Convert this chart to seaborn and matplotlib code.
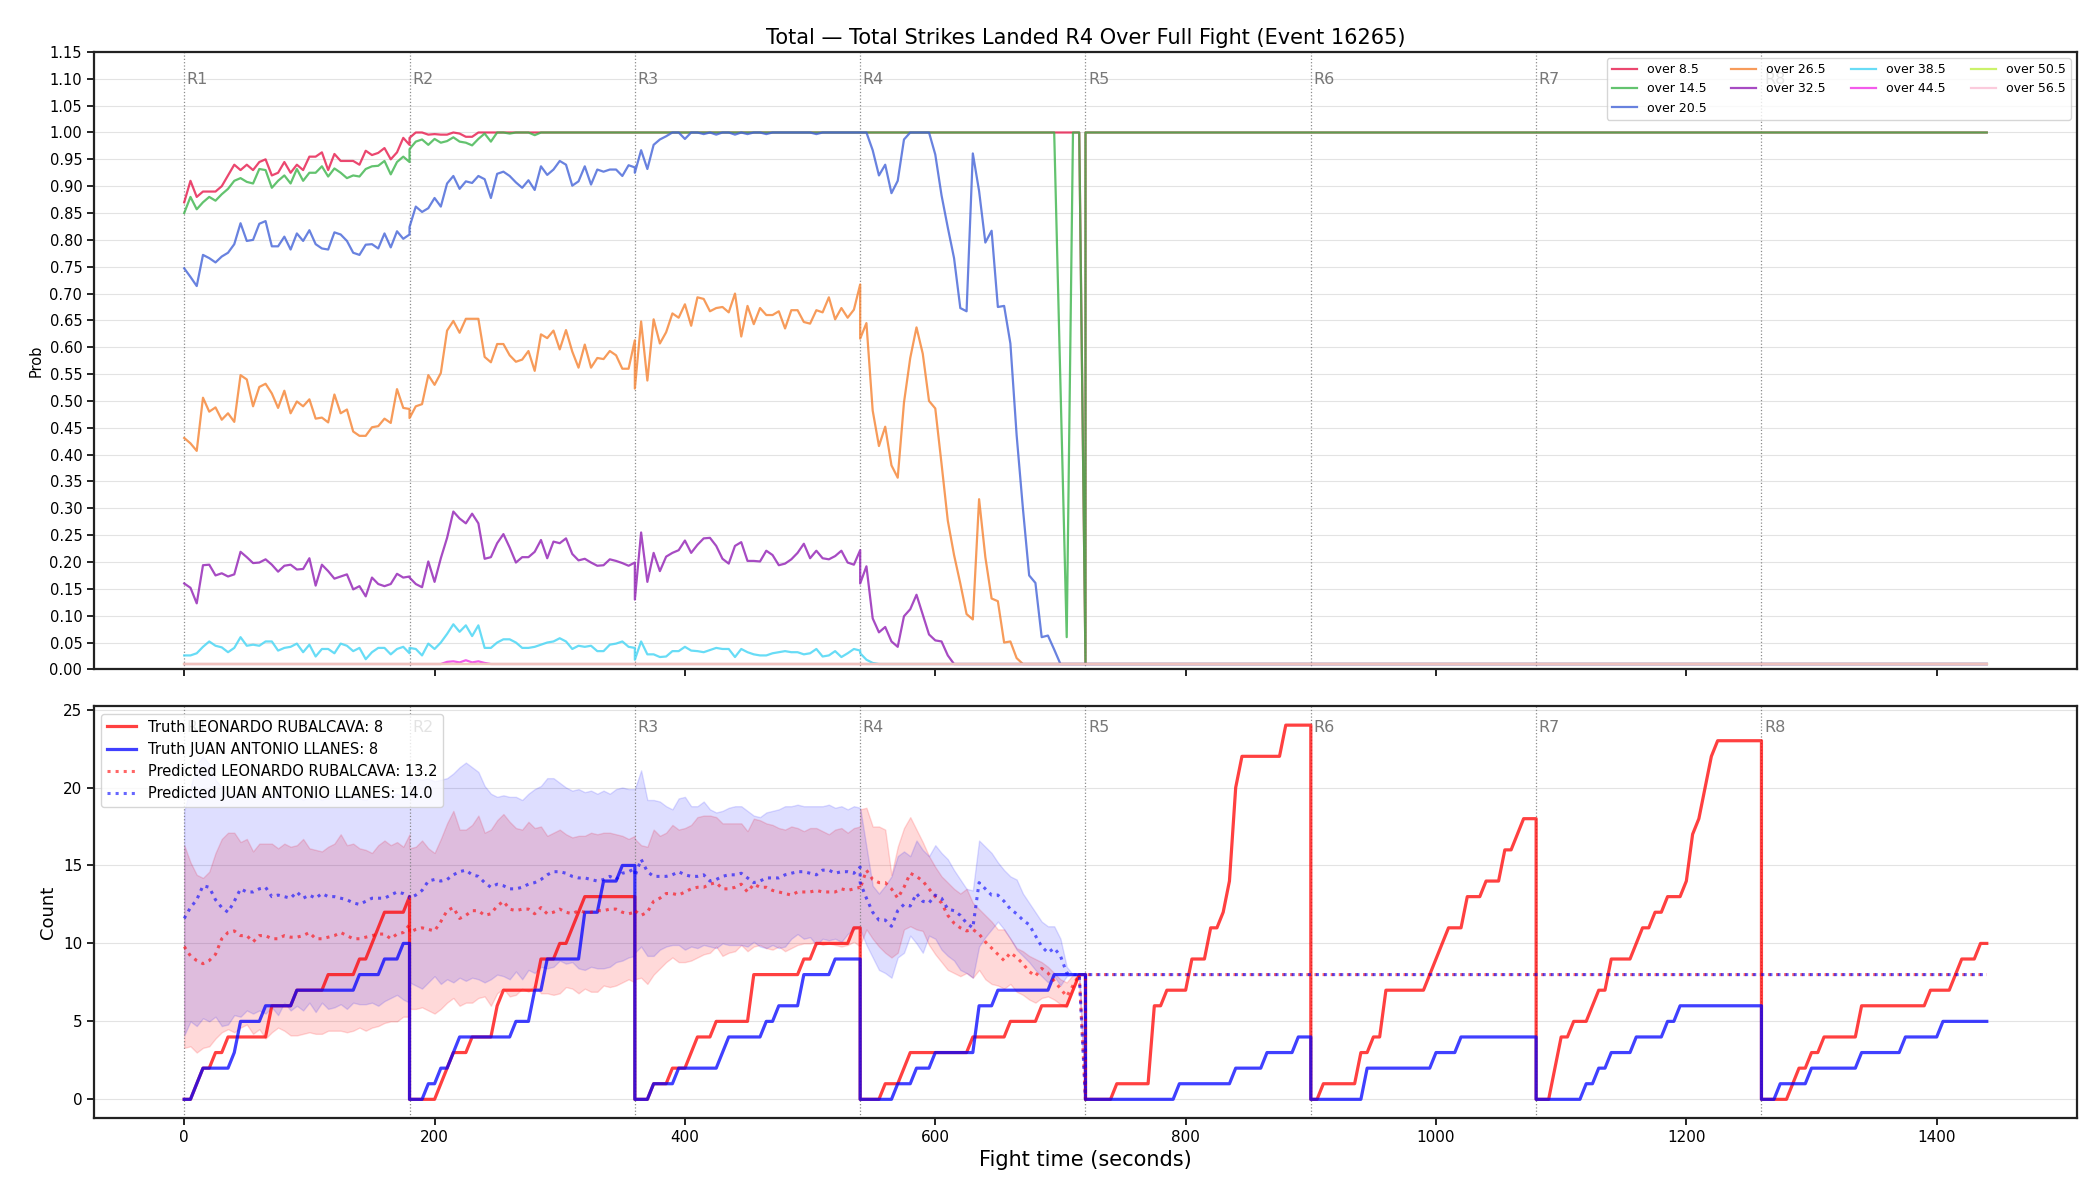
import numpy as np
import pandas as pd
import matplotlib
matplotlib.use("Agg")
import matplotlib.pyplot as plt
import matplotlib.transforms as mtransforms
from matplotlib.ticker import FormatStrFormatter
import seaborn as sns

ROUND_LEN = 180
STEP = 5
# sample times inside one round (seconds from the round start)
tau = np.arange(0, ROUND_LEN + STEP, STEP)


def flat(v):
    # a round where the value does not move
    return [v] * len(tau)


# ---------------- top panel: P(total strikes landed R4 over X) ----------------
over_8_5 = [
    [0.87, 0.91, 0.88, 0.89, 0.89, 0.89, 0.90, 0.92, 0.94, 0.93, 0.94, 0.93, 0.945, 0.95, 0.92, 0.925, 0.945, 0.925, 0.94,
     0.93, 0.955, 0.955, 0.963, 0.93, 0.96, 0.947, 0.947, 0.947, 0.94, 0.966, 0.958, 0.962, 0.971, 0.95, 0.963, 0.99, 0.977],
    [0.99, 1.0, 1.0, 0.996, 0.997, 0.996, 0.996, 1.0, 0.998, 0.992, 0.992, 1.0, 1.0, 1.0, 1.0, 1.0, 1.0, 1.0, 1.0, 1.0,
     1.0, 1.0, 1.0, 1.0, 1.0, 1.0, 1.0, 1.0, 1.0, 1.0, 1.0, 1.0, 1.0, 1.0, 1.0, 1.0, 1.0],
    flat(1.0),
    flat(1.0)[:-1] + [0.01],
    flat(1.0), flat(1.0), flat(1.0), flat(1.0),
]
over_14_5 = [
    [0.85, 0.88, 0.857, 0.87, 0.88, 0.873, 0.885, 0.895, 0.91, 0.915, 0.908, 0.905, 0.932, 0.93, 0.897, 0.91, 0.92, 0.905,
     0.932, 0.91, 0.925, 0.925, 0.937, 0.918, 0.933, 0.925, 0.915, 0.92, 0.918, 0.932, 0.937, 0.938, 0.947, 0.922, 0.945,
     0.955, 0.945],
    [0.969, 0.983, 0.987, 0.977, 0.988, 0.981, 0.984, 0.991, 0.983, 0.981, 0.976, 0.988, 0.998, 0.983, 1.0, 1.0, 0.998, 1.0,
     1.0, 1.0, 0.995, 1.0, 1.0, 1.0, 1.0, 1.0, 1.0, 1.0, 1.0, 1.0, 1.0, 1.0, 1.0, 1.0, 1.0, 1.0, 1.0],
    flat(1.0),
    flat(1.0)[:32] + [0.53, 0.06, 1.0, 1.0, 0.01],
    flat(1.0), flat(1.0), flat(1.0), flat(1.0),
]
over_20_5 = [
    [0.747, 0.731, 0.714, 0.772, 0.766, 0.758, 0.769, 0.776, 0.792, 0.831, 0.798, 0.80, 0.83, 0.835, 0.788, 0.788, 0.806,
     0.782, 0.812, 0.798, 0.818, 0.792, 0.784, 0.782, 0.814, 0.81, 0.798, 0.776, 0.772, 0.791, 0.792, 0.784, 0.812, 0.786,
     0.816, 0.802, 0.81],
    [0.824, 0.862, 0.852, 0.859, 0.878, 0.862, 0.905, 0.919, 0.895, 0.909, 0.906, 0.919, 0.913, 0.878, 0.923, 0.927, 0.919,
     0.907, 0.897, 0.911, 0.893, 0.937, 0.921, 0.931, 0.947, 0.94, 0.901, 0.909, 0.937, 0.903, 0.931, 0.927, 0.931, 0.931,
     0.919, 0.939, 0.935],
    [0.925, 0.967, 0.932, 0.977, 0.987, 0.993, 1.0, 1.0, 0.988, 1.0, 1.0, 0.997, 1.0, 0.996, 1.0, 1.0, 0.996, 1.0, 0.997,
     1.0, 1.0, 0.997, 1.0, 1.0, 1.0, 1.0, 1.0, 1.0, 1.0, 0.997, 1.0, 1.0, 1.0, 1.0, 1.0, 1.0, 1.0],
    [1.0, 1.0, 0.967, 0.92, 0.94, 0.887, 0.91, 0.987, 1.0, 1.0, 1.0, 1.0, 0.959, 0.883, 0.823, 0.766, 0.673, 0.667, 0.961,
     0.891, 0.795, 0.817, 0.675, 0.677, 0.607, 0.436, 0.30, 0.175, 0.161, 0.06, 0.063, 0.037, 0.01, 0.01, 0.01, 0.01, 0.01],
    flat(0.01), flat(0.01), flat(0.01), flat(0.01),
]
over_26_5 = [
    [0.431, 0.421, 0.407, 0.506, 0.48, 0.488, 0.465, 0.477, 0.461, 0.548, 0.54, 0.49, 0.526, 0.532, 0.514, 0.487, 0.519,
     0.477, 0.499, 0.49, 0.503, 0.467, 0.469, 0.46, 0.512, 0.477, 0.484, 0.443, 0.435, 0.435, 0.451, 0.453, 0.467, 0.459,
     0.522, 0.487, 0.485],
    [0.468, 0.49, 0.494, 0.548, 0.53, 0.552, 0.631, 0.649, 0.627, 0.653, 0.653, 0.653, 0.582, 0.572, 0.606, 0.606, 0.585,
     0.573, 0.577, 0.593, 0.556, 0.624, 0.617, 0.631, 0.596, 0.632, 0.592, 0.562, 0.605, 0.562, 0.58, 0.578, 0.593, 0.585,
     0.56, 0.56, 0.613],
    [0.523, 0.648, 0.538, 0.652, 0.607, 0.628, 0.663, 0.655, 0.68, 0.64, 0.693, 0.69, 0.667, 0.673, 0.675, 0.665, 0.70,
     0.62, 0.677, 0.643, 0.673, 0.66, 0.66, 0.667, 0.635, 0.669, 0.669, 0.647, 0.644, 0.669, 0.665, 0.693, 0.652, 0.673,
     0.655, 0.67, 0.717],
    [0.616, 0.645, 0.482, 0.416, 0.452, 0.38, 0.357, 0.497, 0.58, 0.637, 0.588, 0.50, 0.486, 0.383, 0.277, 0.213, 0.16,
     0.103, 0.093, 0.317, 0.209, 0.132, 0.127, 0.05, 0.052, 0.021, 0.01, 0.01, 0.01, 0.01, 0.01, 0.01, 0.01, 0.01, 0.01,
     0.01, 0.01],
    flat(0.01), flat(0.01), flat(0.01), flat(0.01),
]
over_32_5 = [
    [0.16, 0.152, 0.123, 0.194, 0.195, 0.175, 0.179, 0.173, 0.177, 0.219, 0.209, 0.198, 0.199, 0.205, 0.195, 0.182, 0.193,
     0.195, 0.186, 0.187, 0.207, 0.156, 0.195, 0.183, 0.169, 0.173, 0.177, 0.149, 0.155, 0.136, 0.171, 0.159, 0.155, 0.159,
     0.178, 0.171, 0.173],
    [0.171, 0.159, 0.153, 0.201, 0.163, 0.207, 0.245, 0.294, 0.281, 0.272, 0.29, 0.272, 0.206, 0.209, 0.235, 0.252, 0.227,
     0.199, 0.209, 0.209, 0.219, 0.241, 0.207, 0.238, 0.235, 0.244, 0.215, 0.203, 0.206, 0.199, 0.193, 0.194, 0.205, 0.202,
     0.198, 0.193, 0.199],
    [0.13, 0.255, 0.163, 0.217, 0.183, 0.21, 0.217, 0.222, 0.24, 0.217, 0.232, 0.244, 0.245, 0.23, 0.206, 0.197, 0.23,
     0.237, 0.202, 0.202, 0.201, 0.221, 0.213, 0.194, 0.197, 0.205, 0.217, 0.234, 0.207, 0.221, 0.207, 0.205, 0.211, 0.221,
     0.199, 0.195, 0.222],
    [0.16, 0.192, 0.095, 0.069, 0.079, 0.052, 0.042, 0.099, 0.112, 0.139, 0.102, 0.065, 0.054, 0.052, 0.026, 0.01, 0.01,
     0.01, 0.01, 0.01, 0.01, 0.01, 0.01, 0.01, 0.01, 0.01, 0.01, 0.01, 0.01, 0.01, 0.01, 0.01, 0.01, 0.01, 0.01, 0.01, 0.01],
    flat(0.01), flat(0.01), flat(0.01), flat(0.01),
]
over_38_5 = [
    [0.026, 0.026, 0.03, 0.042, 0.052, 0.044, 0.041, 0.032, 0.04, 0.06, 0.044, 0.046, 0.044, 0.052, 0.052, 0.035, 0.04,
     0.042, 0.048, 0.032, 0.046, 0.024, 0.038, 0.038, 0.03, 0.048, 0.044, 0.034, 0.04, 0.019, 0.032, 0.04, 0.04, 0.028,
     0.038, 0.042, 0.03],
    [0.04, 0.038, 0.026, 0.048, 0.038, 0.05, 0.066, 0.084, 0.07, 0.082, 0.062, 0.082, 0.04, 0.04, 0.05, 0.056, 0.056, 0.05,
     0.04, 0.04, 0.042, 0.046, 0.05, 0.052, 0.058, 0.052, 0.038, 0.044, 0.042, 0.044, 0.034, 0.034, 0.046, 0.048, 0.052,
     0.042, 0.04],
    [0.018, 0.052, 0.028, 0.028, 0.023, 0.024, 0.034, 0.034, 0.042, 0.035, 0.034, 0.032, 0.036, 0.04, 0.038, 0.038, 0.023,
     0.038, 0.032, 0.028, 0.026, 0.026, 0.03, 0.032, 0.034, 0.032, 0.032, 0.028, 0.03, 0.038, 0.024, 0.026, 0.034, 0.023,
     0.03, 0.038, 0.035],
    [0.03, 0.018, 0.012] + flat(0.01)[3:],
    flat(0.01), flat(0.01), flat(0.01), flat(0.01),
]
over_44_5 = [
    flat(0.01),
    [0.01, 0.01, 0.01, 0.01, 0.01, 0.01, 0.014, 0.015, 0.013, 0.017, 0.013, 0.015, 0.012] + flat(0.01)[13:],
    flat(0.01), flat(0.01), flat(0.01), flat(0.01), flat(0.01), flat(0.01),
]
over_50_5 = [flat(0.01)] * 8
over_56_5 = [flat(0.01)] * 8

top_labels = ["over 8.5", "over 14.5", "over 20.5", "over 26.5", "over 32.5",
              "over 38.5", "over 44.5", "over 50.5", "over 56.5"]
top_values = [over_8_5, over_14_5, over_20_5, over_26_5, over_32_5,
              over_38_5, over_44_5, over_50_5, over_56_5]
top_colors = ["#e6194b", "#3cb44b", "#4363d8", "#f58231", "#911eb4",
              "#42d4f4", "#f032e6", "#bfef45", "#fabed4"]

# ---------------- bottom panel: strikes landed per round ----------------
fighter_a = "LEONARDO RUBALCAVA"
fighter_b = "JUAN ANTONIO LLANES"

truth_a = [
    [0, 0, 1, 2, 2, 3, 3, 4, 4, 4, 4, 4, 4, 4, 6, 6, 6, 6, 7, 7, 7, 7, 7, 8, 8, 8, 8, 8, 9, 9, 10, 11, 12, 12, 12, 12, 13],
    [0, 0, 0, 0, 0, 1, 2, 3, 3, 3, 4, 4, 4, 4, 6, 7, 7, 7, 7, 7, 7, 9, 9, 9, 10, 10, 11, 12, 13, 13, 13, 13, 13, 13, 13,
     13, 13],
    [0, 0, 0, 1, 1, 1, 2, 2, 2, 3, 4, 4, 4, 5, 5, 5, 5, 5, 5, 8, 8, 8, 8, 8, 8, 8, 8, 9, 9, 10, 10, 10, 10, 10, 10, 11, 11],
    [0, 0, 0, 0, 1, 1, 1, 2, 3, 3, 3, 3, 3, 3, 3, 3, 3, 3, 4, 4, 4, 4, 4, 4, 5, 5, 5, 5, 5, 6, 6, 6, 6, 6, 7, 8, 8],
    [0, 0, 0, 0, 0, 1, 1, 1, 1, 1, 1, 6, 6, 7, 7, 7, 7, 9, 9, 9, 11, 11, 12, 14, 20, 22, 22, 22, 22, 22, 22, 22, 24, 24,
     24, 24, 24],
    [0, 0, 1, 1, 1, 1, 1, 1, 3, 3, 4, 4, 7, 7, 7, 7, 7, 7, 7, 8, 9, 10, 11, 11, 11, 13, 13, 13, 14, 14, 14, 16, 16, 17,
     18, 18, 18],
    [0, 0, 0, 2, 4, 4, 5, 5, 5, 6, 7, 7, 9, 9, 9, 9, 10, 11, 11, 12, 12, 13, 13, 13, 14, 17, 18, 20, 22, 23, 23, 23, 23,
     23, 23, 23, 23],
    [0, 0, 0, 0, 0, 1, 2, 2, 3, 3, 4, 4, 4, 4, 4, 4, 6, 6, 6, 6, 6, 6, 6, 6, 6, 6, 6, 7, 7, 7, 7, 8, 9, 9, 9, 10, 10],
]
truth_b = [
    [0, 0, 1, 2, 2, 2, 2, 2, 3, 5, 5, 5, 5, 6, 6, 6, 6, 6, 7, 7, 7, 7, 7, 7, 7, 7, 7, 7, 8, 8, 8, 8, 9, 9, 9, 10, 10],
    [0, 0, 0, 1, 1, 2, 2, 3, 4, 4, 4, 4, 4, 4, 4, 4, 4, 5, 5, 5, 7, 7, 9, 9, 9, 9, 9, 9, 12, 12, 12, 14, 14, 14, 15, 15,
     15],
    [0, 0, 0, 1, 1, 1, 1, 2, 2, 2, 2, 2, 2, 2, 3, 4, 4, 4, 4, 4, 4, 5, 5, 6, 6, 6, 6, 8, 8, 8, 8, 8, 9, 9, 9, 9, 9],
    [0, 0, 0, 0, 0, 0, 1, 1, 1, 2, 2, 2, 3, 3, 3, 3, 3, 3, 3, 6, 6, 6, 7, 7, 7, 7, 7, 7, 7, 7, 7, 8, 8, 8, 8, 8, 8],
    [0, 0, 0, 0, 0, 0, 0, 0, 0, 0, 0, 0, 0, 0, 0, 1, 1, 1, 1, 1, 1, 1, 1, 1, 2, 2, 2, 2, 2, 3, 3, 3, 3, 3, 4, 4, 4],
    [0, 0, 0, 0, 0, 0, 0, 0, 0, 2, 2, 2, 2, 2, 2, 2, 2, 2, 2, 2, 3, 3, 3, 3, 4, 4, 4, 4, 4, 4, 4, 4, 4, 4, 4, 4, 4],
    [0, 0, 0, 0, 0, 0, 0, 0, 1, 1, 2, 2, 3, 3, 3, 3, 4, 4, 4, 4, 4, 5, 5, 6, 6, 6, 6, 6, 6, 6, 6, 6, 6, 6, 6, 6, 6],
    [0, 0, 0, 1, 1, 1, 1, 1, 2, 2, 2, 2, 2, 2, 2, 2, 3, 3, 3, 3, 3, 3, 3, 4, 4, 4, 4, 4, 4, 5, 5, 5, 5, 5, 5, 5, 5],
]

pred_a = [
    [9.8, 9.2, 8.9, 8.7, 8.9, 9.3, 10.3, 10.7, 10.8, 10.5, 10.5, 10.1, 10.5, 10.5, 10.3, 10.3, 10.5, 10.4, 10.4, 10.5,
     10.7, 10.3, 10.3, 10.4, 10.5, 10.7, 10.5, 10.3, 10.3, 10.4, 10.5, 10.6, 10.6, 10.3, 10.6, 10.7, 11.2],
    [10.7, 10.9, 11.0, 10.9, 10.8, 11.4, 12.1, 12.3, 11.6, 11.8, 12.1, 12.1, 11.8, 11.9, 12.4, 12.7, 12.2, 12.1, 12.2,
     12.2, 11.9, 12.3, 11.9, 12.0, 12.2, 12.0, 11.9, 12.1, 12.0, 12.0, 12.1, 12.1, 12.2, 12.2, 12.0, 11.9, 12.0],
    [12.1, 11.8, 12.0, 12.7, 12.9, 13.2, 13.2, 13.1, 13.3, 13.5, 13.6, 13.6, 13.8, 13.9, 13.5, 13.5, 13.6, 13.8, 13.3,
     13.8, 13.6, 13.6, 13.4, 13.3, 13.2, 13.1, 13.3, 13.3, 13.3, 13.4, 13.3, 13.3, 13.3, 13.5, 13.4, 13.5, 13.6],
    [13.5, 14.7, 14.1, 13.9, 13.9, 13.5, 12.9, 13.6, 14.5, 14.3, 14.0, 13.5, 13.0, 12.6, 11.8, 11.3, 11.0, 10.8, 10.9,
     10.6, 10.1, 9.7, 9.3, 8.9, 9.4, 9.1, 8.7, 8.2, 7.9, 8.4, 8.1, 7.6, 7.1, 6.6, 7.3, 8.0, 0.0],
    flat(8.0), flat(8.0), flat(8.0), flat(8.0),
]
pred_b = [
    [11.6, 12.3, 12.8, 13.7, 13.6, 12.8, 12.3, 12.0, 12.7, 13.5, 13.3, 13.3, 13.5, 13.6, 13.0, 13.1, 13.0, 12.9, 13.3,
     12.9, 13.1, 12.9, 13.2, 13.0, 13.0, 12.9, 12.8, 12.6, 12.5, 12.7, 12.9, 12.9, 12.9, 13.1, 13.3, 13.2, 13.0],
    [12.9, 13.1, 13.4, 14.0, 14.1, 14.0, 14.1, 14.4, 14.6, 14.7, 14.4, 14.3, 13.9, 13.6, 13.8, 13.7, 13.5, 13.5, 13.6,
     13.8, 13.9, 14.1, 14.4, 14.6, 14.6, 14.5, 14.3, 14.2, 14.2, 14.1, 14.0, 14.1, 14.3, 14.1, 14.5, 14.6, 14.8],
    [14.3, 15.4, 14.6, 14.3, 14.3, 14.3, 14.4, 14.6, 14.4, 14.3, 14.3, 14.4, 14.0, 14.1, 14.3, 14.4, 14.4, 14.5, 14.2,
     13.9, 14.0, 14.2, 14.2, 14.2, 14.4, 14.5, 14.6, 14.6, 14.5, 14.4, 14.7, 14.7, 14.5, 14.6, 14.6, 14.5, 14.9],
    [13.9, 12.9, 12.0, 11.5, 11.5, 11.1, 12.1, 12.5, 12.4, 13.2, 12.7, 12.6, 13.1, 12.9, 12.2, 12.1, 11.8, 11.3, 11.0,
     13.9, 13.5, 13.1, 13.1, 12.7, 12.2, 11.9, 11.5, 11.2, 10.5, 9.8, 9.4, 9.7, 9.2, 8.1, 8.0, 8.0, 0.0],
    flat(8.0), flat(8.0), flat(8.0), flat(8.0),
]

# prediction bands, rounds 1-4 only
band_a_lo = [
    [3.3, 3.4, 3.0, 3.3, 3.4, 3.9, 4.3, 4.5, 4.3, 4.6, 4.8, 4.2, 4.5, 3.9, 4.3, 4.6, 4.4, 4.1, 4.1, 4.2, 4.3, 4.2, 4.2,
     4.4, 4.4, 4.4, 4.3, 4.4, 4.6, 4.4, 4.6, 4.7, 4.9, 5.0, 5.0, 5.3, 5.3],
    [5.8, 5.8, 5.9, 5.7, 5.5, 5.8, 6.2, 6.5, 6.0, 6.2, 6.2, 6.5, 6.6, 6.0, 6.8, 7.1, 6.6, 6.7, 7.1, 6.9, 7.3, 6.8, 6.8,
     6.7, 6.8, 7.2, 7.1, 6.8, 7.1, 6.9, 6.9, 7.3, 7.2, 7.3, 7.5, 7.7, 7.5],
    [7.7, 7.8, 7.4, 8.0, 8.4, 8.8, 9.1, 8.8, 8.8, 8.9, 9.1, 9.3, 9.4, 9.8, 9.2, 9.4, 9.5, 9.9, 9.5, 9.8, 9.9, 9.7, 9.6,
     9.8, 9.5, 9.7, 9.9, 10.0, 10.0, 10.1, 9.9, 10.0, 9.9, 9.8, 9.9, 10.1, 9.8],
    [9.9, 10.9, 10.3, 9.8, 9.4, 9.1, 9.4, 10.9, 11.1, 10.9, 10.8, 9.9, 9.3, 8.8, 8.3, 8.1, 7.9, 8.1, 7.8, 8.3, 7.7, 7.4,
     7.3, 7.1, 7.4, 6.9, 6.7, 6.4, 6.2, 6.5, 6.6, 6.4, 6.1, 5.9, 7.0, 8.0, 0.0],
]
band_a_hi = [
    [16.3, 15.2, 14.4, 14.2, 14.6, 15.8, 16.7, 17.1, 17.1, 16.5, 16.7, 15.9, 16.4, 16.4, 16.4, 16.1, 16.4, 16.2, 16.3,
     16.7, 16.1, 16.0, 15.9, 16.2, 16.4, 17.0, 16.3, 16.4, 16.1, 16.0, 15.8, 16.3, 16.6, 16.3, 16.5, 16.2, 17.0],
    [16.1, 16.2, 16.6, 16.1, 15.8, 16.7, 17.7, 18.5, 17.3, 17.3, 17.6, 18.2, 17.1, 17.3, 17.9, 18.3, 17.8, 17.4, 17.3,
     17.8, 17.4, 17.5, 16.9, 17.1, 17.3, 17.0, 16.8, 16.9, 16.9, 17.1, 17.0, 17.1, 17.1, 17.0, 16.9, 16.7, 16.9],
    [16.7, 16.3, 16.2, 17.3, 16.9, 17.1, 17.6, 17.3, 17.4, 17.6, 18.1, 18.2, 18.2, 18.1, 17.7, 17.7, 17.7, 17.7, 17.2,
     18.0, 17.9, 17.7, 17.6, 17.4, 17.3, 17.5, 17.4, 17.2, 17.4, 17.4, 17.2, 17.0, 17.3, 17.4, 17.1, 17.4, 17.5],
    [18.6, 18.7, 17.5, 17.5, 17.3, 14.4, 16.2, 17.4, 18.1, 17.3, 16.5, 15.6, 14.9, 14.3, 13.9, 13.5, 13.2, 13.5, 12.6,
     12.2, 11.8, 11.4, 10.9, 10.9, 10.3, 9.7, 9.5, 9.2, 9.0, 8.8, 8.5, 8.1, 7.7, 7.5, 8.0, 8.0, 0.0],
]
band_b_lo = [
    [4.1, 5.0, 4.7, 5.2, 5.0, 5.3, 4.7, 4.8, 5.4, 5.3, 5.7, 5.5, 5.7, 5.5, 5.9, 5.4, 6.2, 5.7, 6.0, 5.7, 6.2, 5.6, 6.2,
     5.8, 5.9, 6.1, 5.8, 6.2, 6.1, 6.1, 6.2, 6.0, 6.3, 6.5, 6.7, 6.4, 6.2],
    [7.5, 7.3, 7.1, 7.5, 7.9, 7.4, 7.7, 7.5, 7.8, 7.6, 7.8, 7.7, 7.5, 7.7, 8.0, 7.9, 7.7, 8.2, 7.7, 8.3, 8.1, 8.5, 8.4,
     8.5, 8.9, 8.7, 8.8, 8.4, 8.3, 8.5, 8.4, 8.4, 8.5, 8.8, 8.9, 9.1, 9.2],
    [9.4, 9.8, 9.2, 9.2, 9.6, 9.8, 9.9, 9.9, 9.6, 9.8, 9.7, 9.9, 9.8, 9.7, 10.0, 9.9, 9.9, 9.9, 9.8, 10.1, 9.8, 9.7, 9.9,
     9.7, 9.8, 10.3, 10.6, 10.3, 10.4, 9.9, 10.3, 10.2, 10.3, 10.1, 10.6, 10.9, 11.1],
    [10.9, 9.9, 9.1, 8.3, 8.1, 7.8, 9.1, 9.4, 10.5, 10.0, 9.4, 10.5, 10.3, 9.6, 9.2, 8.9, 8.3, 8.1, 7.8, 9.8, 10.4, 10.9,
     11.4, 10.9, 10.3, 9.6, 9.2, 8.8, 8.3, 7.9, 7.5, 7.9, 7.3, 7.9, 8.0, 8.0, 0.0],
]
band_b_hi = [
    [18.5, 20.0, 21.5, 22.0, 21.5, 20.5, 20.0, 19.5, 19.5, 19.8, 20.0, 19.7, 19.5, 19.3, 19.5, 19.8, 19.5, 19.3, 19.5,
     19.2, 19.5, 19.4, 19.2, 19.5, 19.6, 19.3, 19.4, 19.5, 19.3, 19.2, 19.5, 19.6, 19.3, 19.5, 19.6, 19.4, 19.8],
    [20.7, 20.6, 20.5, 20.6, 20.4, 20.5, 20.6, 20.9, 21.3, 21.6, 21.3, 21.0, 20.1, 19.6, 19.4, 19.5, 19.4, 19.4, 19.2,
     19.6, 19.9, 20.1, 20.6, 20.6, 20.3, 20.0, 19.8, 19.9, 19.7, 19.8, 19.6, 19.8, 19.6, 19.9, 20.0, 19.9, 19.9],
    [19.9, 21.1, 19.2, 19.2, 19.1, 18.8, 18.6, 19.3, 19.4, 18.8, 18.8, 19.1, 18.6, 18.4, 18.5, 18.7, 18.8, 18.8, 18.5,
     18.2, 18.1, 18.4, 18.5, 18.6, 18.8, 18.8, 18.9, 18.8, 18.8, 18.8, 18.8, 18.9, 18.7, 18.8, 18.6, 18.8, 18.7],
    [18.7, 16.2, 13.7, 13.2, 13.7, 14.3, 15.6, 15.9, 15.6, 16.6, 16.0, 15.6, 16.3, 15.8, 15.4, 14.7, 14.1, 13.5, 13.4,
     16.6, 16.2, 15.8, 15.2, 14.7, 14.3, 14.1, 13.2, 12.6, 12.0, 11.4, 11.1, 11.1, 10.3, 8.5, 8.0, 8.0, 0.0],
]


def stitch(rounds):
    t = np.concatenate([i * ROUND_LEN + tau for i in range(len(rounds))])
    v = np.concatenate([np.asarray(r, dtype=float) for r in rounds])
    return t, v


def round_marks(ax):
    trans = mtransforms.blended_transform_factory(ax.transData, ax.transAxes)
    for i in range(8):
        x = i * ROUND_LEN
        ax.axvline(x, color="gray", ls=":", lw=0.9, alpha=0.9, zorder=1)
        ax.text(x + 2, 0.968, f"R{i + 1}", transform=trans, ha="left", va="top",
                color="dimgray", fontsize=11.5, alpha=0.9)


fig, (ax1, ax2) = plt.subplots(2, 1, figsize=(21, 12), dpi=100, sharex=True,
                               gridspec_kw={"height_ratios": [3, 2]})
plt.subplots_adjust(left=0.0448, right=0.989, top=0.9567, bottom=0.0683, hspace=0.072)

# top
frames = []
for lab, rounds in zip(top_labels, top_values):
    t, v = stitch(rounds)
    frames.append(pd.DataFrame({"t": t, "prob": v, "line": lab}))
top_df = pd.concat(frames, ignore_index=True)

sns.lineplot(data=top_df, x="t", y="prob", hue="line", hue_order=top_labels,
             palette=dict(zip(top_labels, top_colors)), estimator=None, sort=False,
             linewidth=1.6, alpha=0.8, ax=ax1)
round_marks(ax1)
ax1.set_ylim(0, 1.15)
ax1.set_yticks(np.arange(0, 1.151, 0.05))
ax1.yaxis.set_major_formatter(FormatStrFormatter("%.2f"))
ax1.grid(axis="y", color="#e3e3e3", lw=0.8)
ax1.set_axisbelow(True)
ax1.set_ylabel("Prob", fontsize=10.5)
ax1.set_xlabel("")
ax1.set_title("Total \u2014 Total Strikes Landed R4 Over Full Fight (Event 16265)", fontsize=15)
sns.move_legend(ax1, "upper right", ncol=4, title=None, fontsize=9, frameon=True, framealpha=0.8)

# bottom
t, v = stitch(truth_a)
sns.lineplot(x=t, y=v, color="red", alpha=0.75, linewidth=2.3, estimator=None, sort=False,
             label=f"Truth {fighter_a}: 8", ax=ax2)
t, v = stitch(truth_b)
sns.lineplot(x=t, y=v, color="blue", alpha=0.75, linewidth=2.3, estimator=None, sort=False,
             label=f"Truth {fighter_b}: 8", ax=ax2)
t, v = stitch(pred_a)
sns.lineplot(x=t, y=v, color="red", alpha=0.6, linewidth=2.2, linestyle=":", estimator=None, sort=False,
             label=f"Predicted {fighter_a}: 13.2", ax=ax2)
t, v = stitch(pred_b)
sns.lineplot(x=t, y=v, color="blue", alpha=0.6, linewidth=2.2, linestyle=":", estimator=None, sort=False,
             label=f"Predicted {fighter_b}: 14.0", ax=ax2)

tb, lo = stitch(band_a_lo)
_, hi = stitch(band_a_hi)
ax2.fill_between(tb, lo, hi, color="red", alpha=0.15, linewidth=1)
tb, lo = stitch(band_b_lo)
_, hi = stitch(band_b_hi)
ax2.fill_between(tb, lo, hi, color="blue", alpha=0.13, linewidth=1)

round_marks(ax2)
ax2.grid(axis="y", color="#e3e3e3", lw=0.8)
ax2.set_axisbelow(True)
ax2.set_ylabel("Count", fontsize=13)
ax2.set_xlabel("Fight time (seconds)", fontsize=15)
ax2.legend(loc="upper left", fontsize=10.5, framealpha=0.8)

for ax in (ax1, ax2):
    for s in ax.spines.values():
        s.set_linewidth(1.6)
        s.set_color("#222222")
    ax.tick_params(width=1.2, length=5)
ax1.tick_params(labelsize=10.5)
ax2.tick_params(labelsize=11)

fig.savefig("out.png", dpi=100)
